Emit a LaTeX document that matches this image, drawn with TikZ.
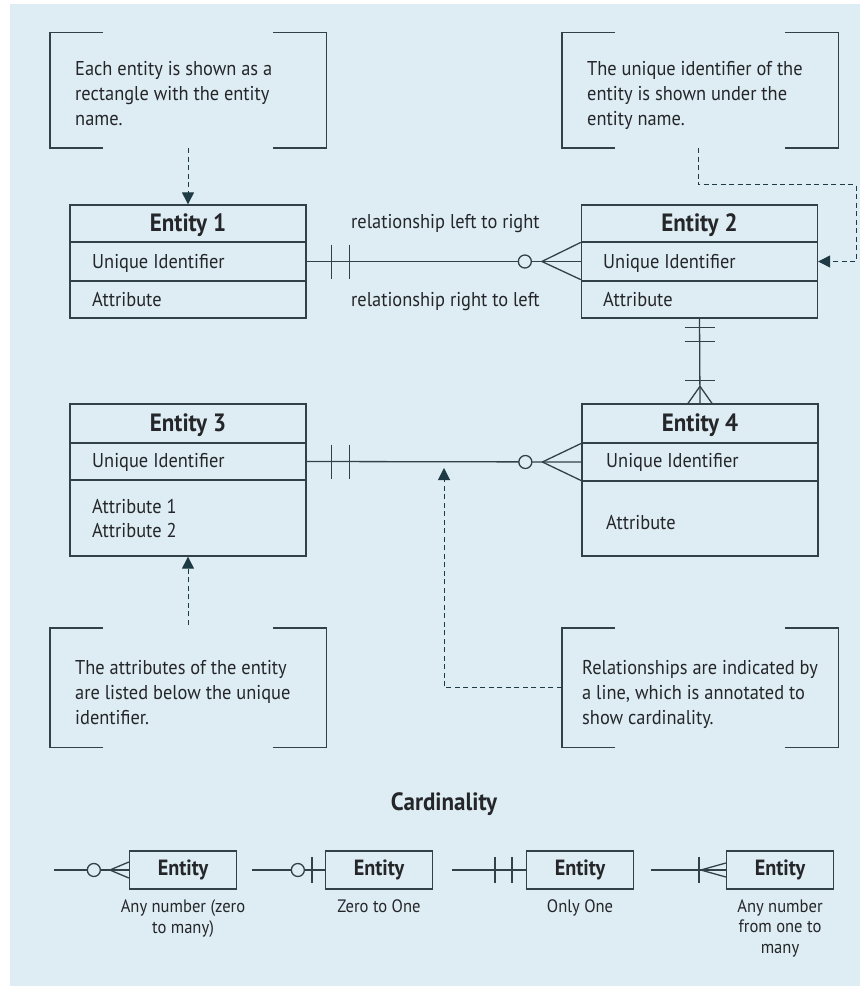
\documentclass[tikz,border=0pt]{standalone}
\usepackage{fontspec}
\setmainfont{PT Sans}[FakeStretch=0.92]
\usetikzlibrary{arrows.meta}

\definecolor{panel}{RGB}{222,237,243}
\definecolor{ink}{RGB}{50,64,72}
\definecolor{txt}{RGB}{36,38,42}
\definecolor{tipc}{RGB}{30,58,68}

\tikzset{
  row/.style={draw=ink, line width=1.3pt, minimum width=236pt, inner sep=0pt},
  ename/.style={font=\bfseries\fontsize{25}{30}\selectfont, text=txt, anchor=base},
  etext/.style={font=\fontsize{20}{24}\selectfont, text=txt, anchor=base west, inner sep=0pt},
  notebox/.style={minimum width=276pt, minimum height=115pt, inner sep=0pt},
  notetext/.style={font=\fontsize{20}{25}\selectfont, text=txt, anchor=base west, align=left, inner sep=0pt},
  bracket/.style={draw=ink, line width=1.4pt},
  rel/.style={draw=ink, line width=1.3pt},
  pointer/.style={draw=tipc, line width=1pt, dash pattern=on 5pt off 3.5pt,
    -{Triangle[length=12pt,width=12pt,fill=tipc]}},
  ring/.style={draw=ink, line width=1.3pt, fill=panel},
  cbox/.style={draw=ink, line width=1.3pt, minimum width=107pt, minimum height=38pt,
    inner sep=0pt, font=\bfseries\fontsize{22}{26}\selectfont, text=txt},
  clabel/.style={font=\fontsize{18}{20.5}\selectfont, text=txt, align=center, anchor=base, inner sep=0pt},
}

% corner brackets drawn around a note node
\newcommand{\notebrackets}[1]{%
  \draw[bracket] ([xshift=53pt]#1.north west) -- (#1.north west) -- (#1.south west) -- ([xshift=53pt]#1.south west);
  \draw[bracket] ([xshift=-53pt]#1.north east) -- (#1.north east) -- (#1.south east) -- ([xshift=-53pt]#1.south east);
}

\begin{document}
\begin{tikzpicture}[x=1pt,y=-1pt]
% page and panel
\fill[white] (0,0) rectangle (860,987);
\fill[panel] (10,4) rectangle (860,986);
\useasboundingbox (0,0) rectangle (860,987);

% ---------- entities ----------
% Entity 1
\node[row, minimum height=37pt] (e1name) at (188,223.5) {};
\node[row, minimum height=39pt] (e1id)   at (188,261.5) {};
\node[row, minimum height=37pt] (e1attr) at (188,299.5) {};
\node[ename] at (188,231) {Entity 1};
\node[etext] at (92,268) {Unique Identifier};
\node[etext] at (92,306) {Attribute};

% Entity 2
\node[row, minimum height=37pt] (e2name) at (699.5,223.5) {};
\node[row, minimum height=39pt] (e2id)   at (699.5,261.5) {};
\node[row, minimum height=37pt] (e2attr) at (699.5,299.5) {};
\node[ename] at (699.5,231) {Entity 2};
\node[etext] at (603,268) {Unique Identifier};
\node[etext] at (603,306) {Attribute};

% Entity 3
\node[row, minimum height=39pt] (e3name) at (188,423.5) {};
\node[row, minimum height=37pt] (e3id)   at (188,461.5) {};
\node[row, minimum height=76pt] (e3attr) at (188,518) {};
\node[ename] at (188,431) {Entity 3};
\node[etext] at (92,467) {Unique Identifier};
\node[etext, align=left] at (92,537) {Attribute 1\\Attribute 2};

% Entity 4
\node[row, minimum height=39pt] (e4name) at (700,423.5) {};
\node[row, minimum height=38pt] (e4id)   at (700,462) {};
\node[row, minimum height=75pt] (e4attr) at (700,518.5) {};
\node[ename] at (700,431) {Entity 4};
\node[etext] at (606,467) {Unique Identifier};
\node[etext] at (606,529) {Attribute};

% ---------- relationships ----------
% Entity 1 -- Entity 2
\draw[rel] (e1id.east) -- (e2id.west);
\draw[rel] ([xshift=25pt]e1id.east) ++(0,-17) -- ++(0,34);
\draw[rel] ([xshift=43pt]e1id.east) ++(0,-17) -- ++(0,34);
\draw[rel] ([xshift=-39pt]e2id.west) -- ([yshift=-1pt]e2id.north west);
\draw[rel] ([xshift=-39pt]e2id.west) -- ([yshift=2pt]e2id.south west);
\draw[ring] ([xshift=-56pt]e2id.west) circle (6.5pt);
\node[etext] at (351,228) {relationship left to right};
\node[etext] at (351,306) {relationship right to left};

% Entity 3 -- Entity 4
\draw[rel] (e3id.east) -- (e4id.west);
\draw[rel] ([xshift=25pt]e3id.east) ++(0,-17) -- ++(0,34);
\draw[rel] ([xshift=43pt]e3id.east) ++(0,-17) -- ++(0,34);
\draw[rel] ([xshift=-39pt]e4id.west) -- ([yshift=-1pt]e4id.north west);
\draw[rel] ([xshift=-39pt]e4id.west) -- ([yshift=1pt]e4id.south west);
\draw[ring] ([xshift=-56pt]e4id.west) circle (6.5pt);

% Entity 2 -- Entity 4
\draw[rel] (e2attr.south) -- (e4name.north);
\draw[rel] ([yshift=-9pt]e2attr.south) ++(-15,0) -- ++(30,0);
\draw[rel] ([yshift=-23pt]e2attr.south) ++(-15,0) -- ++(30,0);
\draw[rel] ([yshift=23pt]e4name.north) ++(-15,0) -- ++(30,0);
\draw[rel] ([yshift=17pt]e4name.north) -- ([xshift=-12pt]e4name.north);
\draw[rel] ([yshift=17pt]e4name.north) -- ([xshift=12pt]e4name.north);

% ---------- notes ----------
\node[notebox] (n1) at (188,90.5) {};
\notebrackets{n1}
\node[notetext] at (75,126) {Each entity is shown as a\\rectangle with the entity\\name.};
\draw[pointer] (n1.south) -- (e1name.north);

\node[notebox] (n2) at (700,90.5) {};
\notebrackets{n2}
\node[notetext] at (587,126) {The unique identifier of the\\entity is shown under the\\entity name.};
\coordinate (k2) at (856,185);
\draw[pointer] ([xshift=-2pt]n2.south) |- (k2) |- (e2id.east);

\node[notebox, minimum height=119pt] (n3) at (188,687.5) {};
\notebrackets{n3}
\node[notetext] at (75,724) {The attributes of the entity\\are listed below the unique\\identifier.};
\draw[pointer] ([yshift=3pt]n3.north) -- (e3attr.south);

\node[notebox, minimum height=119pt] (n4) at (700,687.5) {};
\notebrackets{n4}
\node[notetext] at (582,724) {Relationships are indicated by\\a line, which is annotated to\\show cardinality.};
\coordinate (a4) at (444,468);
\draw[pointer] (n4.west) -| (a4);

% ---------- cardinality legend ----------
\node[font=\bfseries\fontsize{25}{30}\selectfont, text=txt, anchor=base] (ctitle) at (444,810) {Cardinality};

% zero to many
\node[cbox] (c1) at (183,870) {Entity};
\coordinate (c1s) at (54,870);
\draw[rel] (c1s) -- (c1.west);
\draw[rel] ([xshift=-19pt]c1.west) -- ([yshift=-8pt]c1.west);
\draw[rel] ([xshift=-19pt]c1.west) -- ([yshift=8pt]c1.west);
\draw[ring] ([xshift=-35pt]c1.west) circle (6.5pt);
\node[clabel] at (183,933) {Any number (zero\\to many)};

% zero to one
\node[cbox] (c2) at (379,870) {Entity};
\coordinate (c2s) at (252,870);
\draw[rel] (c2s) -- (c2.west);
\draw[rel] ([xshift=-13pt]c2.west) ++(0,-13) -- ++(0,26);
\draw[ring] ([xshift=-27pt]c2.west) circle (6.5pt);
\node[clabel] at (379,912) {Zero to One};

% only one
\node[cbox] (c3) at (580,870) {Entity};
\coordinate (c3s) at (452,870);
\draw[rel] (c3s) -- (c3.west);
\draw[rel] ([xshift=-31pt]c3.west) ++(0,-13) -- ++(0,26);
\draw[rel] ([xshift=-14pt]c3.west) ++(0,-13) -- ++(0,26);
\node[clabel] at (580,912) {Only One};

% one to many
\node[cbox] (c4) at (780,870) {Entity};
\coordinate (c4s) at (651,870);
\draw[rel] (c4s) -- (c4.west);
\draw[rel] ([xshift=-27pt]c4.west) ++(0,-13) -- ++(0,26);
\draw[rel] ([xshift=-25pt]c4.west) -- ([yshift=-7pt]c4.west);
\draw[rel] ([xshift=-25pt]c4.west) -- ([yshift=7pt]c4.west);
\node[clabel] at (780,953) {Any number\\from one to\\many};
\end{tikzpicture}
\end{document}
